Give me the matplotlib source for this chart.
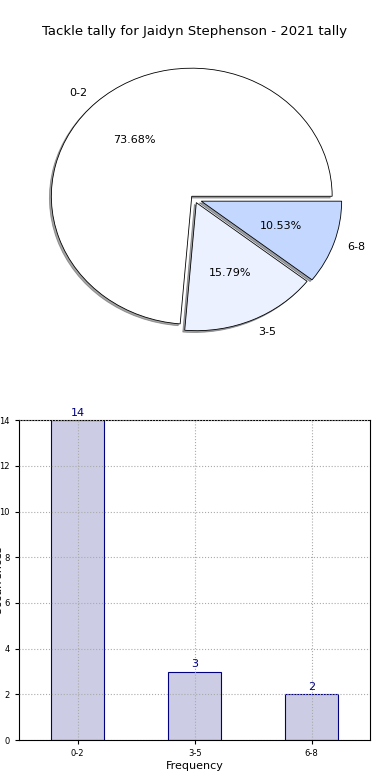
import numpy as np
import matplotlib
matplotlib.use("Agg")
import matplotlib.pyplot as plt

# datos
categories = ['0-2', '3-5', '6-8']
counts = [14, 3, 2]
pie_colors = ['#ffffff', '#ebf1ff', '#c4d8ff']
explode = [0.03, 0.03, 0.05]

fig, (ax1, ax2) = plt.subplots(2, 1, figsize=(3.9, 7.8), dpi=100)
fig.subplots_adjust(left=0.049, right=0.949, bottom=0.051, top=0.95, hspace=0.19)

# pie
wedges, texts, autotexts = ax1.pie(counts, labels=categories, colors=pie_colors,
                                   explode=explode, autopct='%1.2f%%',
                                   shadow={'ox': -0.01, 'oy': -0.01},
                                   startangle=0,
                                   wedgeprops={'edgecolor': 'black', 'linewidth': 0.6},
                                   textprops={'fontsize': 8})
ax1.set_aspect('auto')
ax1.set_title('Tackle tally for Jaidyn Stephenson - 2021 tally', fontsize=9.5, pad=3)

# barras
x = np.arange(len(categories))
bars = ax2.bar(x, counts, width=0.45, color='#ccccE4', edgecolor='navy', linewidth=0.8, zorder=2)
for b, v in zip(bars, counts):
    ax2.text(b.get_x() + b.get_width() / 2, v + 0.1, str(v), ha='center', va='bottom',
             color='navy', fontsize=8)
ax2.set_xlim(-0.5, 2.5)
ax2.set_ylim(0, 14)
ax2.set_xticks(x)
ax2.set_xticklabels(categories, fontsize=6)
ax2.set_yticks(range(0, 15, 2))
ax2.tick_params(axis='y', labelsize=6, length=3)
ax2.tick_params(axis='x', length=3)
ax2.grid(True, linestyle=':', color='#aaaaaa', linewidth=0.8, zorder=3)
ax2.set_axisbelow(False)
ax2.set_xlabel('Frequency', fontsize=8, labelpad=2)
ax2.set_ylabel('Occurrences', fontsize=8)
ax2.yaxis.set_label_coords(-0.045, 0.5)

plt.savefig('out.png')
